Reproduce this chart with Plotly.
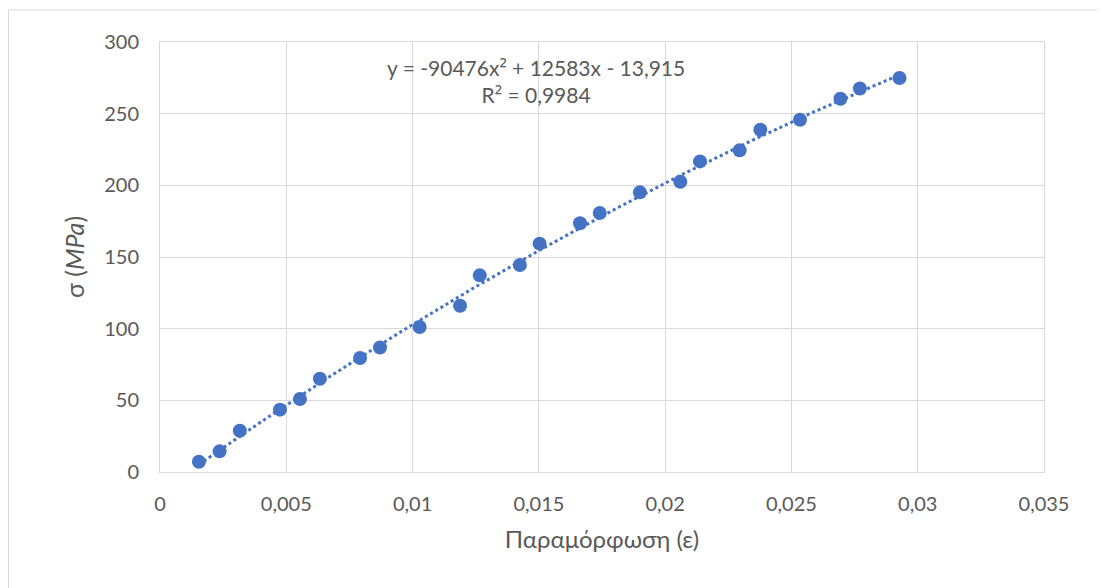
import numpy as np
import plotly.graph_objects as go

# Data
strain = [0.00154, 0.00236, 0.00316, 0.00475, 0.00554, 0.00633, 0.00792, 0.00871,
          0.01028, 0.01188, 0.01266, 0.01425, 0.01503, 0.01663, 0.01741, 0.01900,
          0.02060, 0.02138, 0.02295, 0.02377, 0.02534, 0.02694, 0.02771, 0.02928]
stress = [7.2, 14.4, 28.8, 43.5, 50.9, 65.1, 79.5, 86.9,
          101.2, 116.0, 137.2, 144.4, 159.3, 173.5, 180.7, 195.1,
          202.5, 216.7, 224.4, 238.8, 245.8, 260.4, 267.6, 274.9]

# Polynomial trendline coefficients shown on the chart
coef_a = -90476
coef_b = 12583
coef_c = -13.915
sq = "<span style='font-family:Open Sans'>²</span>"
eq_text = f"y = -90476x{sq} + 12583x - 13,915<br>R{sq} = 0,9984"

x_ticks = [0, 0.005, 0.01, 0.015, 0.02, 0.025, 0.03, 0.035]
y_ticks = [0, 50, 100, 150, 200, 250, 300]

blue = "#4472C4"
grid = "#d9d9d9"
txt = "#595959"
font_family = "Lato, 'Open Sans', sans-serif"

xt = np.linspace(min(strain), max(strain), 200)
yt = coef_a * xt**2 + coef_b * xt + coef_c

fig = go.Figure()
fig.add_trace(go.Scatter(x=xt, y=yt, mode="lines",
                         line=dict(color=blue, width=3, dash="dot"),
                         hoverinfo="skip", showlegend=False))
fig.add_trace(go.Scatter(x=strain, y=stress, mode="markers",
                         marker=dict(color=blue, size=14, line=dict(width=0)),
                         showlegend=False))

fig.add_annotation(x=0.0149, y=272.6, xref="x", yref="y", text=eq_text,
                   showarrow=False, xanchor="center", yanchor="middle",
                   font=dict(family=font_family, size=21, color=txt), align="center")

# page body has an 8px margin, so the figure is drawn 8px smaller/offset
W, H = 1097, 580
L, T = 152, 34
pw, ph = 884, 430
R, B = W - L - pw, H - T - ph
fig.add_shape(type="rect", xref="paper", yref="paper",
              x0=(0.5 - L) / pw, x1=(W + 10 - L) / pw,
              y0=(ph + T - (H + 10)) / ph, y1=(ph + T - 2) / ph,
              line=dict(color=grid, width=1), fillcolor="rgba(0,0,0,0)", layer="below")

fig.update_layout(
    width=W, height=H,
    margin=dict(l=L, r=R, t=T, b=B),
    paper_bgcolor="white", plot_bgcolor="white",
    separators=",.",
    font=dict(family=font_family, size=20, color=txt),
    xaxis=dict(range=[0, 0.035], tickvals=x_ticks, showgrid=True, gridcolor=grid,
               gridwidth=1, showline=True, linecolor=grid, linewidth=1, mirror=True,
               zeroline=False, ticks="", ticklabelstandoff=14,
               tickfont=dict(size=20, color=txt),
               title=dict(text="Παραμόρφωση (ε)", standoff=17,
                          font=dict(size=24, color=txt))),
    yaxis=dict(range=[0, 300], tickvals=y_ticks, showgrid=True, gridcolor=grid,
               gridwidth=1, showline=True, linecolor=grid, linewidth=1, mirror=True,
               zeroline=False, ticks="", ticklabelstandoff=16,
               tickfont=dict(size=20, color=txt),
               title=dict(text="σ (<i>MPa</i>)", standoff=12,
                          font=dict(size=25, color=txt))),
)

fig.write_html("out.html")
